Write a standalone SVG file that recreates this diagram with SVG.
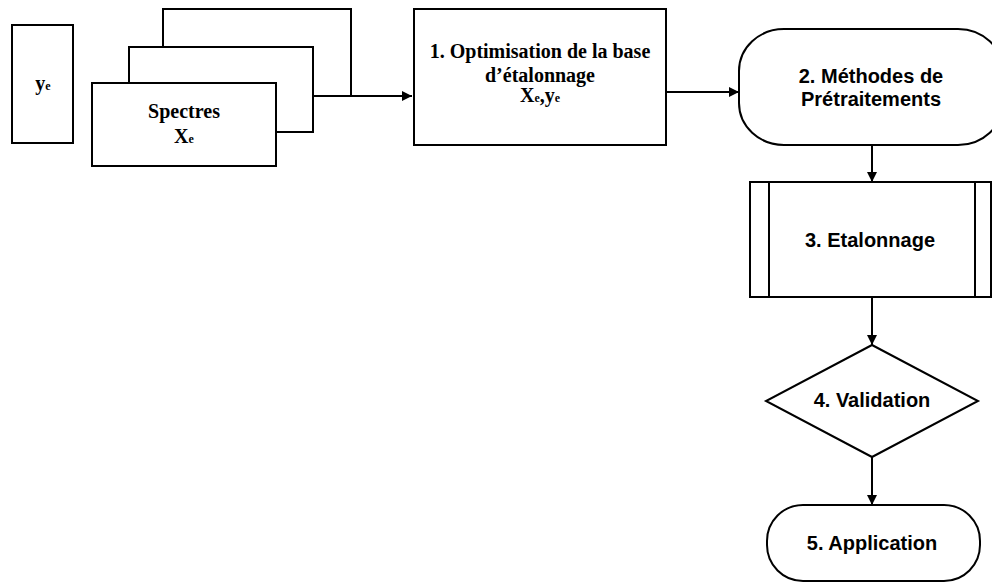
<svg xmlns="http://www.w3.org/2000/svg" width="992" height="583" viewBox="0 0 992 583">
<defs>
<style>
.box{fill:#fff;stroke:#000;stroke-width:2}
.ln{fill:none;stroke:#000;stroke-width:2}
.serif{font-family:"Liberation Serif","Times New Roman",serif;font-weight:bold;font-size:20px;text-anchor:middle;fill:#000}
.sans{font-family:"Liberation Sans",Arial,sans-serif;font-weight:bold;font-size:20px;text-anchor:middle;fill:#000}
.sub{font-size:12px}
</style>
<marker id="arr" viewBox="0 0 10 10" refX="10" refY="5" markerWidth="5" markerHeight="5" orient="auto" markerUnits="strokeWidth">
<path d="M0,0 L10,5 L0,10 z" fill="#000"/>
</marker>
</defs>
<rect width="992" height="583" fill="#fff"/>
<g id="ye">
<rect class="box" x="12" y="25" width="61" height="118"/>
<text class="serif" x="43" y="90">y<tspan class="sub">e</tspan></text>
</g>
<g id="spectres">
<rect class="box" x="163" y="9" width="188" height="87"/>
<rect class="box" x="129" y="47" width="184" height="85"/>
<rect class="box" x="92" y="83" width="184" height="83"/>
<text class="serif" x="184" y="118">Spectres</text>
<text class="serif" x="184" y="143">X<tspan class="sub">e</tspan></text>
</g>
<g id="n1">
<rect class="box" x="414" y="9" width="252" height="136"/>
<text class="serif" x="540" y="58">1. Optimisation de la base</text>
<text class="serif" x="540" y="82">d’étalonnage</text>
<text class="serif" x="540" y="102">X<tspan class="sub">e</tspan>,y<tspan class="sub">e</tspan></text>
</g>
<g id="n2">
<rect class="box" x="739" y="29" width="264" height="116" rx="45" ry="42"/>
<text class="sans" x="871" y="83">2. Méthodes de</text>
<text class="sans" x="871" y="106">Prétraitements</text>
</g>
<g id="n3">
<rect class="box" x="750" y="182" width="241" height="115"/>
<line class="ln" x1="769" y1="182" x2="769" y2="297"/>
<line class="ln" x1="975" y1="182" x2="975" y2="297"/>
<text class="sans" x="870" y="247">3. Etalonnage</text>
</g>
<g id="n4">
<polygon class="box" points="872,345 978,401 872,457 766,401"/>
<text class="sans" x="872" y="407">4. Validation</text>
</g>
<g id="n5">
<rect class="box" x="767" y="505" width="213" height="76" rx="36" ry="36"/>
<text class="sans" x="872" y="550">5. Application</text>
</g>
<g id="connectors">
<path class="ln" d="M313,96 H412" marker-end="url(#arr)"/>
<path class="ln" d="M666,92 H739" marker-end="url(#arr)"/>
<path class="ln" d="M872,145 V182" marker-end="url(#arr)"/>
<path class="ln" d="M872,297 V345" marker-end="url(#arr)"/>
<path class="ln" d="M872,457 V505" marker-end="url(#arr)"/>
</g>
</svg>
